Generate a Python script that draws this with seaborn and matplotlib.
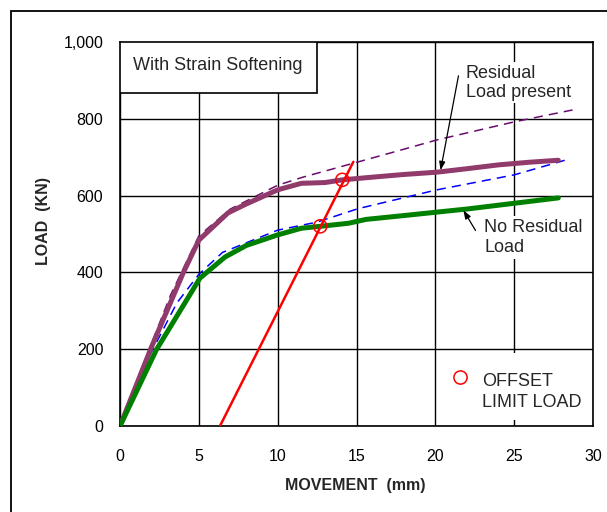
import matplotlib
matplotlib.use("Agg")
import matplotlib.pyplot as plt
from matplotlib.patches import Rectangle
from matplotlib.ticker import MultipleLocator, FuncFormatter
import seaborn as sns
import pandas as pd

# ---- data ----
res_x = [0, 2, 4, 5, 6.85, 8, 10, 11.5, 13, 14.1, 16, 18, 20.1, 22, 24, 26, 27.8]
res_y = [0, 206, 398, 484, 555, 578, 615, 632, 634, 641, 648, 655, 661, 670, 680, 687, 692]

nores_x = [0, 2.3, 5.07, 6.66, 8, 9.95, 11.5, 12.7, 14.5, 15.6, 18, 20.1, 22, 25, 27.8]
nores_y = [0, 198, 385, 440, 470, 497, 515, 520, 528, 538, 548, 557, 565, 580, 594]

res_dash_x = [0, 2, 3.2, 5, 7, 10, 11.6, 14.6, 17.5, 20.1, 25, 28.7]
res_dash_y = [0, 215, 340, 495, 565, 627, 648, 682, 715, 745, 792, 823]

nores_dash_x = [0, 1.9, 3.6, 5, 6.5, 10, 12.5, 15.1, 20.1, 25, 28.3]
nores_dash_y = [0, 185, 320, 395, 452, 510, 531, 566, 615, 654, 693]

offset_x = [6.34, 14.8]
offset_y = [0, 688]

limit_x = [12.7, 14.1]
limit_y = [520, 641]

x_ticks = [0, 5, 10, 15, 20, 25, 30]
y_ticks = [0, 200, 400, 600, 800, 1000]

sns.set_style("white")
plt.rcParams["font.family"] = ["Liberation Sans", "DejaVu Sans"]

fig = plt.figure(figsize=(6.07, 5.12), dpi=100)
ax = fig.add_axes([120/607, 1-426/512, (593-120)/607, (426-42)/512])

# figure frame (left/top visible)
fig.patches.append(Rectangle((11/607, -0.5), 2.0, 1 - 11/512 + 0.5,
                             transform=fig.transFigure, fill=False,
                             lw=1.3, edgecolor="black", zorder=0))

df_res = pd.DataFrame({"x": res_x, "y": res_y})
df_nores = pd.DataFrame({"x": nores_x, "y": nores_y})
df_rd = pd.DataFrame({"x": res_dash_x, "y": res_dash_y})
df_nd = pd.DataFrame({"x": nores_dash_x, "y": nores_dash_y})
df_off = pd.DataFrame({"x": offset_x, "y": offset_y})
df_lim = pd.DataFrame({"x": limit_x, "y": limit_y})

sns.lineplot(data=df_rd, x="x", y="y", ax=ax, color="#6a0a6e", lw=1.1,
             sort=False, estimator=None, zorder=3)
ax.lines[-1].set_dashes((6, 4))
sns.lineplot(data=df_nd, x="x", y="y", ax=ax, color="#0000ff", lw=1.1,
             sort=False, estimator=None, zorder=3)
ax.lines[-1].set_dashes((6, 4))
sns.lineplot(data=df_res, x="x", y="y", ax=ax, color="#913a6c", lw=3.6,
             sort=False, estimator=None, zorder=4)
sns.lineplot(data=df_nores, x="x", y="y", ax=ax, color="#008000", lw=3.6,
             sort=False, estimator=None, zorder=4)
sns.lineplot(data=df_off, x="x", y="y", ax=ax, color="#ff0000", lw=1.8,
             sort=False, estimator=None, zorder=5)
sns.scatterplot(data=df_lim, x="x", y="y", ax=ax, s=90, marker="o",
                facecolor="none", edgecolor="#ff0000", linewidth=1.1, zorder=6)

ax.set_xlim(0, 30)
ax.set_ylim(0, 1000)
ax.set_xticks(x_ticks)
ax.set_yticks(y_ticks)
ax.yaxis.set_minor_locator(MultipleLocator(50))
ax.yaxis.set_major_formatter(FuncFormatter(lambda v, p: f"{int(v):,}"))
ax.grid(True, which="major", color="black", lw=1.0, zorder=1)
ax.set_axisbelow(True)

ax.tick_params(axis="x", direction="inout", length=9, width=1.0,
               labelsize=11.5, pad=12, colors="black")
ax.tick_params(axis="y", which="both", direction="out", length=4, width=1.0,
               labelsize=11.5, pad=8, colors="black")
ax.tick_params(axis="y", which="minor", length=4)
for s in ax.spines.values():
    s.set_color("black")
    s.set_linewidth(1.2)

ax.set_xlabel("MOVEMENT  (mm)", fontsize=11.5, fontweight="bold")
ax.set_ylabel("LOAD  (KN)", fontsize=11.5, fontweight="bold")
ax.xaxis.set_label_coords((355-120)/473, (426-478)/384)
ax.yaxis.set_label_coords((51-120)/473, (426-221)/384)

# title box
ax.add_patch(Rectangle((0, (426-93)/384), (317-120)/473, (93-42)/384,
                       transform=ax.transAxes, facecolor="white",
                       edgecolor="black", lw=1.2, zorder=7))
ax.text((218-120)/473, (426-66)/384, "With Strain Softening",
        transform=ax.transAxes, ha="center", va="center", fontsize=13, zorder=8)

# annotations
ax.text(21.94, 894, "Residual\nLoad present", ha="left", va="center",
        fontsize=13, linespacing=1.15, zorder=8,
        bbox=dict(facecolor="white", edgecolor="none", pad=2))
ax.annotate("", xy=(20.3, 659), xytext=(21.5, 919),
            arrowprops=dict(arrowstyle="-|>,head_length=0.5,head_width=0.18",
                            color="black", lw=0.9), zorder=8)

ax.text(23.1, 491, "No Residual\nLoad", ha="left", va="center",
        fontsize=13, linespacing=1.27, zorder=8,
        bbox=dict(facecolor="white", edgecolor="none", pad=2))
ax.annotate("", xy=(21.69, 568), xytext=(22.64, 503),
            arrowprops=dict(arrowstyle="-|>,head_length=0.5,head_width=0.18",
                            color="black", lw=0.9), zorder=8)

# legend
ax.add_patch(Rectangle((20.3, 16), 9.5, 174, facecolor="white",
                       edgecolor="none", zorder=7))
ax.plot([21.56], [128], marker="o", ms=9.5, mfc="none", mec="#ff0000",
        mew=1.1, ls="none", zorder=8)
ax.text(22.95, 89, "OFFSET\nLIMIT LOAD", ha="left", va="center",
        fontsize=13, linespacing=1.33, zorder=8)

fig.savefig("out.png", dpi=100)
